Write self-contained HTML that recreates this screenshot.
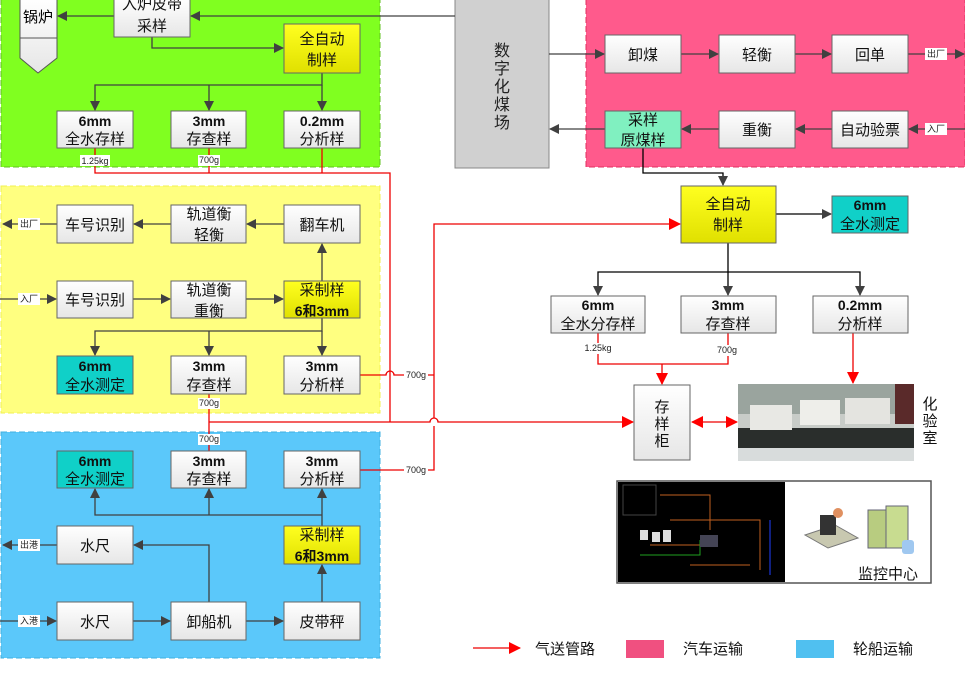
<!DOCTYPE html>
<html><head><meta charset="utf-8"><style>
body{margin:0;background:#fff}
svg text{font-family:"Liberation Sans","Noto Sans CJK SC",sans-serif}
</style></head><body>
<svg width="965" height="675" viewBox="0 0 965 675" xmlns="http://www.w3.org/2000/svg">
<defs>
<marker id="a" markerWidth="10" markerHeight="10" refX="9" refY="5" orient="auto" markerUnits="userSpaceOnUse"><path d="M0,0 L10,5 L0,10 Z" fill="#404040"/></marker>
<marker id="r" markerWidth="12" markerHeight="12" refX="11" refY="6" orient="auto" markerUnits="userSpaceOnUse"><path d="M0,0 L12,6 L0,12 Z" fill="#f00"/></marker>
<marker id="rs" markerWidth="12" markerHeight="12" refX="1" refY="6" orient="auto" markerUnits="userSpaceOnUse"><path d="M12,0 L0,6 L12,12 Z" fill="#f00"/></marker>
<linearGradient id="g" x1="0" y1="0" x2="0" y2="1"><stop offset="0" stop-color="#ffffff"/><stop offset="1" stop-color="#e6e6e6"/></linearGradient>
<linearGradient id="gy" x1="0" y1="0" x2="0" y2="1"><stop offset="0" stop-color="#ffff20"/><stop offset="1" stop-color="#e0e000"/></linearGradient>
</defs>
<rect x="1" y="-2" width="379" height="169" fill="#80ff20" stroke="#60c020" stroke-dasharray="6,3"/>
<rect x="1" y="186" width="379" height="227" fill="#ffff80" stroke="#f0f050" stroke-dasharray="6,3"/>
<rect x="1" y="432" width="379" height="226" fill="#5bc8fa" stroke="#40b0e0" stroke-dasharray="6,3"/>
<rect x="586" y="-2" width="379" height="169" fill="#ff5a8c" stroke="#e03060" stroke-dasharray="6,3"/>
<rect x="455" y="-2" width="94" height="170" fill="#d0d0d0" stroke="#888"/>
<text font-size="16" fill="#222" text-anchor="middle"><tspan x="502" y="56">数</tspan><tspan x="502" y="74">字</tspan><tspan x="502" y="92">化</tspan><tspan x="502" y="110">煤</tspan><tspan x="502" y="128">场</tspan></text>

<g stroke="#404040" stroke-width="1.3" fill="none">
<path d="M455,16 H191" marker-end="url(#a)"/>
<path d="M114,16 H58" marker-end="url(#a)"/>
<path d="M152,37 V48 H283" marker-end="url(#a)"/>
<path d="M322,73 V85 H95 V110" marker-end="url(#a)"/>
<path d="M209,85 V110" marker-end="url(#a)"/>
<path d="M322,85 V110" marker-end="url(#a)"/>
<path d="M284,224 H247" marker-end="url(#a)"/>
<path d="M171,224 H134" marker-end="url(#a)"/>
<path d="M57,224 H3" marker-end="url(#a)"/>
<path d="M0,299 H56" marker-end="url(#a)"/>
<path d="M133,299 H170" marker-end="url(#a)"/>
<path d="M246,299 H283" marker-end="url(#a)"/>
<path d="M322,281 V244" marker-end="url(#a)"/>
<path d="M322,318 V331 H95 V355" marker-end="url(#a)"/>
<path d="M209,331 V355" marker-end="url(#a)"/>
<path d="M322,331 V355" marker-end="url(#a)"/>
<path d="M322,526 V489" marker-end="url(#a)"/>
<path d="M322,515 H95 V489" marker-end="url(#a)"/>
<path d="M209,515 V489" marker-end="url(#a)"/>
<path d="M209,602 V545 H134" marker-end="url(#a)"/>
<path d="M57,545 H3" marker-end="url(#a)"/>
<path d="M0,621 H56" marker-end="url(#a)"/>
<path d="M133,621 H170" marker-end="url(#a)"/>
<path d="M246,621 H283" marker-end="url(#a)"/>
<path d="M322,602 V565" marker-end="url(#a)"/>
<path d="M549,54 H604" marker-end="url(#a)"/>
<path d="M681,54 H718" marker-end="url(#a)"/>
<path d="M795,54 H831" marker-end="url(#a)"/>
<path d="M908,54 H964" marker-end="url(#a)"/>
<path d="M965,129 H909" marker-end="url(#a)"/>
<path d="M832,129 H796" marker-end="url(#a)"/>
<path d="M719,129 H682" marker-end="url(#a)"/>
<path d="M605,129 H550" marker-end="url(#a)"/>
</g>
<g stroke="#000" stroke-width="1.3" fill="none">
<path d="M643,148 V173 H723 V185" marker-end="url(#a)"/>
<path d="M776,214 H831" marker-end="url(#a)"/>
<path d="M728,243 V272 H598 V295" marker-end="url(#a)"/>
<path d="M728,272 V295" marker-end="url(#a)"/>
<path d="M728,272 H860 V295" marker-end="url(#a)"/>
</g>
<g stroke="#e00" stroke-width="1.3" fill="none">
<path d="M95,148 V173 H390 V422"/>
<path d="M209,148 V173"/><path d="M322,148 V173"/>
<path d="M209,394 V451"/>
<path d="M209,422 H430 a4,4 0 0 1 8,0 H633" marker-end="url(#r)"/>
<path d="M360,375 H386 a4,4 0 0 1 8,0 H434"/>
<path d="M360,470 H434 V426 M434,418 V224 H680" marker-end="url(#r)"/>
<path d="M598,333 V364 H728 V333"/>
<path d="M662,364 V384" marker-end="url(#r)"/>
<path d="M853,333 V383" marker-end="url(#r)"/>
<path d="M692,422 H737" marker-start="url(#rs)" marker-end="url(#r)"/>
<path d="M473,648 H520" marker-end="url(#r)"/>
</g>

<path d="M20,-2 H57 V58 L38,73 L20,58 Z" fill="url(#g)" stroke="#555"/>
<line x1="20" y1="38" x2="57" y2="38" stroke="#555"/>
<text x="38" y="22" font-size="15" text-anchor="middle">锅炉</text>

<g stroke="#666" stroke-width="1">
<rect x="114" y="-2" width="76" height="39" fill="url(#g)"/>
<rect x="284" y="24" width="76" height="49" fill="url(#gy)"/>
<rect x="57" y="111" width="76" height="37" fill="url(#g)"/>
<rect x="171" y="111" width="75" height="37" fill="url(#g)"/>
<rect x="284" y="111" width="76" height="37" fill="url(#g)"/>
<rect x="57" y="205" width="76" height="38" fill="url(#g)"/>
<rect x="171" y="205" width="75" height="38" fill="url(#g)"/>
<rect x="284" y="205" width="76" height="38" fill="url(#g)"/>
<rect x="57" y="281" width="76" height="37" fill="url(#g)"/>
<rect x="171" y="281" width="75" height="37" fill="url(#g)"/>
<rect x="284" y="281" width="76" height="37" fill="url(#gy)"/>
<rect x="57" y="356" width="76" height="38" fill="#10d0c8"/>
<rect x="171" y="356" width="75" height="38" fill="url(#g)"/>
<rect x="284" y="356" width="76" height="38" fill="url(#g)"/>
<rect x="57" y="451" width="76" height="37" fill="#10d0c8"/>
<rect x="171" y="451" width="75" height="37" fill="url(#g)"/>
<rect x="284" y="451" width="76" height="37" fill="url(#g)"/>
<rect x="57" y="526" width="76" height="38" fill="url(#g)"/>
<rect x="284" y="526" width="76" height="38" fill="url(#gy)"/>
<rect x="57" y="602" width="76" height="38" fill="url(#g)"/>
<rect x="171" y="602" width="75" height="38" fill="url(#g)"/>
<rect x="284" y="602" width="76" height="38" fill="url(#g)"/>
<rect x="605" y="35" width="76" height="38" fill="url(#g)"/>
<rect x="719" y="35" width="76" height="38" fill="url(#g)"/>
<rect x="832" y="35" width="76" height="38" fill="url(#g)"/>
<rect x="605" y="111" width="76" height="37" fill="#80f0c0"/>
<rect x="719" y="111" width="76" height="37" fill="url(#g)"/>
<rect x="832" y="111" width="76" height="37" fill="url(#g)"/>
<rect x="681" y="186" width="95" height="57" fill="url(#gy)"/>
<rect x="832" y="196" width="76" height="37" fill="#10d0c8"/>
<rect x="551" y="296" width="94" height="37" fill="url(#g)"/>
<rect x="681" y="296" width="95" height="37" fill="url(#g)"/>
<rect x="813" y="296" width="95" height="37" fill="url(#g)"/>
<rect x="634" y="385" width="56" height="75" fill="url(#g)"/>
</g>

<g font-size="15" fill="#111" text-anchor="middle">
<text x="152" y="9">入炉皮带</text><text x="152" y="31">采样</text>
<text x="322" y="44">全自动</text><text x="322" y="65">制样</text>
<text x="95" y="126" font-weight="bold" font-size="14">6mm</text><text x="95" y="144">全水存样</text>
<text x="209" y="126" font-weight="bold" font-size="14">3mm</text><text x="209" y="144">存查样</text>
<text x="322" y="126" font-weight="bold" font-size="14">0.2mm</text><text x="322" y="144">分析样</text>
<text x="95" y="230">车号识别</text>
<text x="209" y="219">轨道衡</text><text x="209" y="240">轻衡</text>
<text x="322" y="230">翻车机</text>
<text x="95" y="305">车号识别</text>
<text x="209" y="295">轨道衡</text><text x="209" y="316">重衡</text>
<text x="322" y="295">采制样</text><text x="322" y="316" font-weight="bold" font-size="14">6和3mm</text>
<text x="95" y="371" font-weight="bold" font-size="14">6mm</text><text x="95" y="390">全水测定</text>
<text x="209" y="371" font-weight="bold" font-size="14">3mm</text><text x="209" y="390">存查样</text>
<text x="322" y="371" font-weight="bold" font-size="14">3mm</text><text x="322" y="390">分析样</text>
<text x="95" y="466" font-weight="bold" font-size="14">6mm</text><text x="95" y="484">全水测定</text>
<text x="209" y="466" font-weight="bold" font-size="14">3mm</text><text x="209" y="484">存查样</text>
<text x="322" y="466" font-weight="bold" font-size="14">3mm</text><text x="322" y="484">分析样</text>
<text x="95" y="551">水尺</text>
<text x="322" y="540">采制样</text><text x="322" y="561" font-weight="bold" font-size="14">6和3mm</text>
<text x="95" y="627">水尺</text><text x="209" y="627">卸船机</text><text x="322" y="627">皮带秤</text>
<text x="643" y="60">卸煤</text><text x="757" y="60">轻衡</text><text x="870" y="60">回单</text>
<text x="643" y="125">采样</text><text x="643" y="145">原煤样</text>
<text x="757" y="135">重衡</text><text x="870" y="135">自动验票</text>
<text x="728" y="209">全自动</text><text x="728" y="230">制样</text>
<text x="870" y="210" font-weight="bold" font-size="14">6mm</text><text x="870" y="229">全水测定</text>
<text x="598" y="310" font-weight="bold" font-size="14">6mm</text><text x="598" y="329">全水分存样</text>
<text x="728" y="310" font-weight="bold" font-size="14">3mm</text><text x="728" y="329">存查样</text>
<text x="860" y="310" font-weight="bold" font-size="14">0.2mm</text><text x="860" y="329">分析样</text>
<text x="662" y="412">存</text><text x="662" y="429">样</text><text x="662" y="446">柜</text>
<text x="930" y="409">化</text><text x="930" y="426">验</text><text x="930" y="443">室</text>
</g>

<g font-size="9" fill="#222" text-anchor="middle">
<rect x="80" y="155" width="30" height="11" fill="#fff"/><text x="95" y="164">1.25kg</text>
<rect x="198" y="155" width="22" height="11" fill="#fff"/><text x="209" y="163">700g</text>
<rect x="198" y="398" width="22" height="11" fill="#fff"/><text x="209" y="406">700g</text>
<rect x="198" y="434" width="22" height="11" fill="#fff"/><text x="209" y="442">700g</text>
<rect x="404" y="370" width="24" height="11" fill="#fff"/><text x="416" y="378">700g</text>
<rect x="404" y="465" width="24" height="11" fill="#fff"/><text x="416" y="473">700g</text>
<rect x="583" y="343" width="30" height="11" fill="#fff"/><text x="598" y="351">1.25kg</text>
<rect x="716" y="345" width="22" height="11" fill="#fff"/><text x="727" y="353">700g</text>
<rect x="18" y="218" width="22" height="12" fill="#fff"/><text x="29" y="227">出厂</text>
<rect x="18" y="293" width="22" height="12" fill="#fff"/><text x="29" y="302">入厂</text>
<rect x="18" y="539" width="22" height="12" fill="#fff"/><text x="29" y="548">出港</text>
<rect x="18" y="615" width="22" height="12" fill="#fff"/><text x="29" y="624">入港</text>
<rect x="925" y="48" width="22" height="12" fill="#fff"/><text x="936" y="57">出厂</text>
<rect x="925" y="123" width="22" height="12" fill="#fff"/><text x="936" y="132">入厂</text>
</g>

<rect x="738" y="384" width="176" height="77" fill="#c8ccc8"/>
<rect x="738" y="384" width="176" height="30" fill="#9aa49e"/>
<rect x="738" y="428" width="176" height="20" fill="#2a2e2c"/>
<rect x="750" y="405" width="42" height="25" fill="#e8e8e4"/>
<rect x="800" y="400" width="40" height="25" fill="#eeeeea"/>
<rect x="845" y="398" width="45" height="26" fill="#e4e4e0"/>
<rect x="895" y="384" width="19" height="40" fill="#5a2a2a"/>
<rect x="738" y="448" width="176" height="13" fill="#d8dcdc"/>

<rect x="617" y="481" width="314" height="102" fill="#fff" stroke="#555" stroke-width="1.5"/>
<rect x="618" y="482" width="167" height="100" fill="#000"/>
<g stroke="#c06020" stroke-width="1" fill="none">
<path d="M660,495 H710 V530 M670,520 H760 V570 M650,545 H700 M690,565 H750"/>
</g>
<g stroke="#20a020" fill="none"><path d="M640,555 H700 V540"/></g>
<g stroke="#2040ff" fill="none"><path d="M770,520 V575"/></g>
<rect x="623" y="485" width="33" height="30" fill="none" stroke="#444"/>
<rect x="640" y="530" width="8" height="10" fill="#ddd"/><rect x="652" y="532" width="8" height="10" fill="#ddd"/><rect x="663" y="530" width="8" height="12" fill="#ddd"/>
<rect x="700" y="535" width="18" height="12" fill="#445"/>
<path d="M805,535 L835,525 L858,538 L828,548 Z" fill="#c8c8b0" stroke="#777"/>
<rect x="820" y="515" width="16" height="20" fill="#333"/>
<circle cx="838" cy="513" r="5" fill="#e09060"/>
<rect x="868" y="510" width="22" height="38" fill="#b8cc80" stroke="#667"/>
<rect x="886" y="506" width="22" height="42" fill="#c8dc90" stroke="#667"/>
<rect x="902" y="540" width="12" height="14" fill="#a0c8f0" rx="3"/>
<text x="888" y="579" font-size="15" text-anchor="middle" fill="#111">监控中心</text>

<g font-size="15" fill="#111">
<text x="535" y="654">气送管路</text>
<rect x="626" y="640" width="38" height="18" fill="#f05080"/>
<text x="683" y="654">汽车运输</text>
<rect x="796" y="640" width="38" height="18" fill="#50c0f0"/>
<text x="853" y="654">轮船运输</text>
</g>
</svg>
</body></html>
